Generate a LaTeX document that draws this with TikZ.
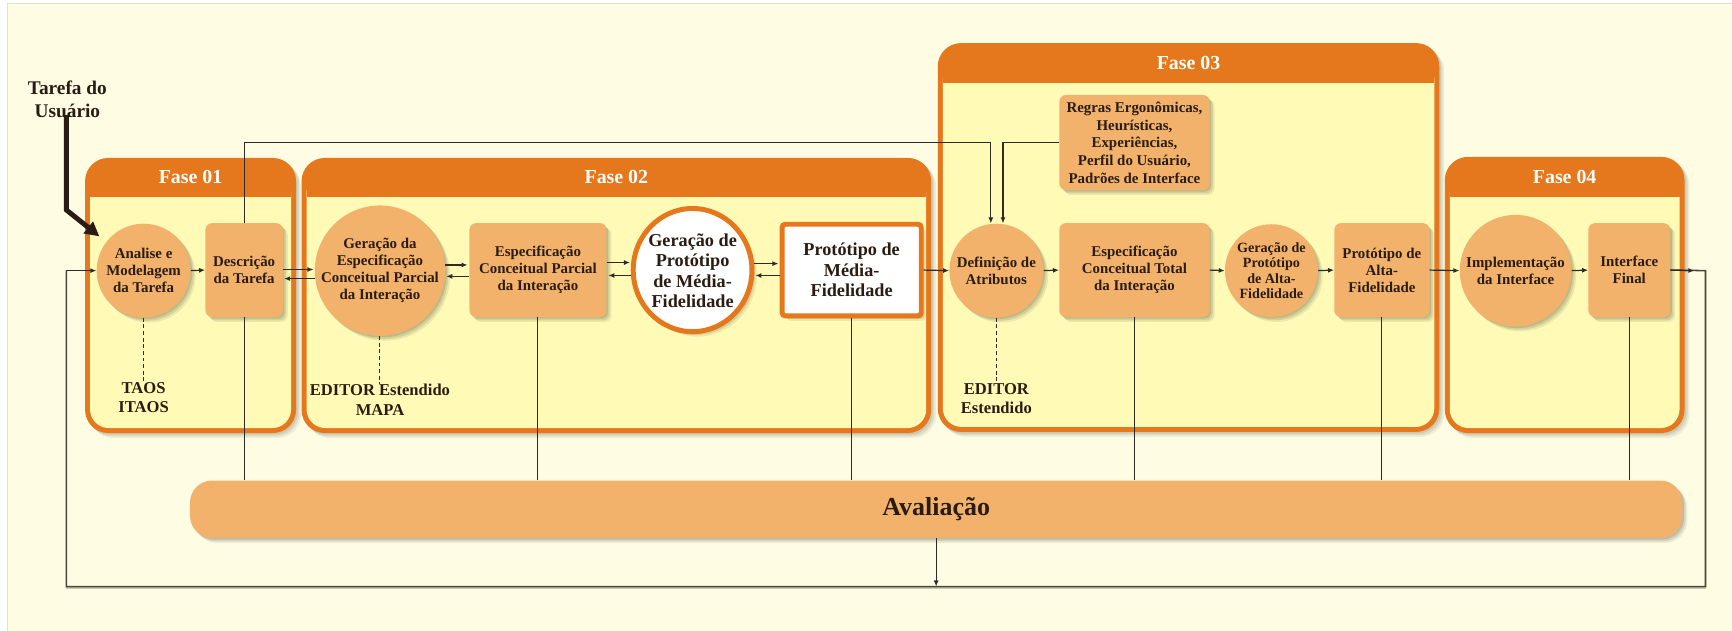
\documentclass[tikz,border=0pt]{standalone}
\usepackage{fontspec}
\setmainfont{Liberation Serif}[BoldFont={Liberation Serif Bold}]
\usetikzlibrary{arrows.meta,shadows,calc,shapes.geometric}

\definecolor{pagebg}{HTML}{FEFDE3}
\definecolor{pageedge}{HTML}{E6E0C6}
\definecolor{phaseorange}{HTML}{E5771D}
\definecolor{phaseyellow}{HTML}{FFFAB6}
\definecolor{nodefill}{HTML}{F2B26C}
\definecolor{inkcol}{HTML}{2A1C12}
\definecolor{linecol}{HTML}{2E2A26}
\definecolor{loopcol}{HTML}{48463A}

\tikzset{
  softshadow/.style={
    drop shadow={shadow xshift=1.5pt,shadow yshift=-1.5pt,opacity=0.10,fill=black},
    drop shadow={shadow xshift=3pt,shadow yshift=-3pt,opacity=0.10,fill=black},
    drop shadow={shadow xshift=4.5pt,shadow yshift=-4.5pt,opacity=0.07,fill=black}},
  txt/.style={font=\bfseries\fontsize{13.5}{15.5}\selectfont,text=inkcol,align=center,inner sep=0pt},
  smalltxt/.style={font=\bfseries\fontsize{12.8}{14}\selectfont,text=inkcol,align=center,inner sep=0pt},
  bigtxt/.style={font=\bfseries\fontsize{16.5}{18.5}\selectfont,text=inkcol,align=center,inner sep=0pt},
  tooltxt/.style={font=\bfseries\fontsize{15}{17.5}\selectfont,text=inkcol,align=center,inner sep=0pt},
  phasetitle/.style={font=\bfseries\fontsize{18}{20}\selectfont,text=white,inner sep=0pt},
  procbox/.style={rectangle,rounded corners=6,fill=nodefill,softshadow,inner sep=0pt},
  proccirc/.style={circle,fill=nodefill,softshadow,inner sep=0pt},
  keybox/.style={rectangle,rounded corners=3,fill=white,draw=phaseorange,line width=4.5,softshadow,inner sep=0pt},
  keycirc/.style={ellipse,fill=white,draw=phaseorange,line width=4.5,softshadow,inner sep=0pt},
  flow/.style={draw=linecol,line width=1.1,-{Latex[length=5.5,width=4.5]}},
  link/.style={draw=linecol,line width=0.9},
  tooltie/.style={draw=linecol,line width=0.9,dash pattern=on 3.5 off 2.5},
}

% phase container: x1 y1 x2 y2 header-bottom title name
\newcommand\phaseframe[7]{%
  \fill[black,opacity=0.08,rounded corners=21] (#1+1.5,#2+1.5) rectangle (#3+1.5,#4+1.5);
  \fill[black,opacity=0.08,rounded corners=21] (#1+3,#2+3) rectangle (#3+3,#4+3);
  \fill[black,opacity=0.06,rounded corners=21] (#1+4.5,#2+4.5) rectangle (#3+4.5,#4+4.5);
  \fill[phaseorange,rounded corners=21] (#1,#2) rectangle (#3,#4);
  \fill[phaseyellow,rounded corners=17] (#1+4.5,#5-20) rectangle (#3-4.5,#4-4.5);
  \fill[phaseorange] (#1+4.5,#5-21) rectangle (#3-4.5,#5);
  \node[phasetitle] (#7) at ({(#1+#3)/2},{(#2+#5)/2}) {#6};
}

\begin{document}
\begin{tikzpicture}[x=1pt,y=-1pt]
\useasboundingbox (0,0) rectangle (1568,571);
\fill[white] (0,0) rectangle (1568,571);
\fill[pagebg] (7,3.5) rectangle (1568,571);
\draw[pageedge,line width=1] (7,571) -- (7,3.5) -- (1568,3.5);

% phases
\phaseframe{77}{143}{268}{392}{178}{Fase 01}{fase1}
\phaseframe{273}{143}{843}{392}{178}{Fase 02}{fase2}
\phaseframe{849}{39}{1303}{391}{75}{Fase 03}{fase3}
\phaseframe{1308}{142}{1525}{392}{178}{Fase 04}{fase4}

% evaluation bar
\node[rectangle,rounded corners=20,fill=nodefill,softshadow,minimum width=1351,minimum height=52,
      font=\bfseries\fontsize{23.5}{26}\selectfont,text=inkcol] (aval) at (847.5,461) {Avaliação};

% phase 01
\node[proccirc,minimum size=85] (analise) at (130,245) {};
\node[txt] (analise-t) at (analise) {Analise e\\Modelagem\\da Tarefa};
\node[procbox,minimum width=70,minimum height=85] (desc) at (221,244.5) {};
\node[txt] (desc-t) at (desc) {Descrição\\da Tarefa};
\node[tooltxt] (taos) at (130,360) {TAOS\\ITAOS};

% phase 02
\node[proccirc,minimum size=118] (geresp) at (344,245) {};
\node[txt] (geresp-t) at (geresp) {Geração da\\Especificação\\Conceitual Parcial\\da Interação};
\node[procbox,minimum width=124,minimum height=85] (espparc) at (487,244.5) {};
\node[txt] (espparc-t) at (espparc) {Especificação\\Conceitual Parcial\\da Interação};
\node[keycirc,minimum width=107.5,minimum height=111.5] (germed) at (627,244.5) {};
\node[bigtxt] (germed-t) at (627,245) {Geração de\\Protótipo\\de Média-\\Fidelidade};
\node[keybox,minimum width=126,minimum height=83] (protmed) at (771,244.5) {};
\node[bigtxt] (protmed-t) at (protmed) {Protótipo de\\Média-\\Fidelidade};
\node[tooltxt] (editor2) at (344,362) {EDITOR Estendido\\MAPA};

% phase 03
\node[procbox,minimum width=136,minimum height=86] (regras) at (1027,129) {};
\node[txt,font=\bfseries\fontsize{13.5}{16}\selectfont] (regras-t) at (regras) {Regras Ergonômicas,\\Heurísticas,\\Experiências,\\Perfil do Usuário,\\Padrões de Interface};
\node[proccirc,minimum size=85] (defatr) at (902,245) {};
\node[txt] (defatr-t) at (defatr) {Definição de\\Atributos};
\node[procbox,minimum width=136,minimum height=85] (esptot) at (1027,244.5) {};
\node[txt] (esptot-t) at (esptot) {Especificação\\Conceitual Total\\da Interação};
\node[proccirc,minimum size=84] (geralta) at (1151,245) {};
\node[smalltxt] (geralta-t) at (geralta) {Geração de\\Protótipo\\de Alta-\\Fidelidade};
\node[procbox,minimum width=86,minimum height=85] (protalta) at (1251,244.5) {};
\node[txt] (protalta-t) at (protalta) {Protótipo de\\Alta-\\Fidelidade};
\node[tooltxt] (editor3) at (902,361) {EDITOR\\Estendido};

% phase 04
\node[proccirc,minimum size=101] (impl) at (1372,245) {};
\node[txt] (impl-t) at (impl) {Implementação\\da Interface};
\node[procbox,minimum width=74,minimum height=85] (final) at (1475,244.5) {};
\node[txt] (final-t) at (final) {Interface\\Final};

% user task input
\node[font=\bfseries\fontsize{17.5}{21.5}\selectfont,text=inkcol,align=center,inner sep=0pt] (tarefa) at (61,90) {Tarefa do\\Usuário};
\coordinate (tarefa-bend) at (60,190);
\coordinate (tarefa-tip) at (90,214);
\draw[line width=4.5,draw=inkcol,-{Triangle[length=13,width=13]}]
  ($(tarefa.south)+(-1,-3)$) -- (tarefa-bend) -- (tarefa-tip);

% tool annotations
\draw[tooltie] (analise.south) -- (taos.north);
\draw[tooltie] (geresp.south) -- (editor2.north);
\draw[tooltie] (defatr.south) -- (editor3.north);

% forward / backward flows
\draw[flow] (analise.east) -- (desc.west);
\draw[flow,shorten >=1] (desc.east |- geresp.179) -- (geresp.179);
\draw[flow,shorten >=1] (geresp.187.8) -- (desc.east |- geresp.187.8);
\draw[flow,shorten >=1.5] (geresp.5.8) -- (geresp.5.8 -| espparc.west);
\draw[flow,shorten >=1] (espparc.west |- geresp.-5.4) -- (geresp.-5.4);
\draw[flow,shorten >=1] (espparc.east |- germed.173.9) -- (germed.173.9);
\draw[flow,shorten >=1.5] (germed.185.6) -- (germed.185.6 -| espparc.east);
\draw[flow,shorten >=1] (germed.6.2) -- (germed.6.2 -| protmed.west);
\draw[flow,shorten >=1] (protmed.west |- germed.-5.6) -- (germed.-5.6);
\draw[flow] (protmed.east) -- (defatr.west);
\draw[flow] (defatr.east) -- (esptot.west);
\draw[flow] (esptot.east) -- (geralta.west);
\draw[flow] (geralta.east) -- (protalta.west);
\draw[flow] (protalta.east) -- (impl.west);
\draw[flow] (impl.east) -- (final.west);

% inputs to attribute definition
\coordinate (d1) at (897,129);
\coordinate (d2) at (908,129);
\draw[flow] (desc.north) |- (d1) -- (d1 |- defatr.north);
\draw[flow] (regras.west) -- (d2) -- (d2 |- defatr.north);

% links to evaluation
\foreach \n in {desc,espparc,protmed,esptot,protalta,final}
  \draw[link] (\n.south) -- (\n.south |- aval.north);

% feedback loop
\coordinate (loopR) at (1544,245);
\coordinate (loopBR) at (1544,531);
\coordinate (loopBL) at (60,531);
\draw[draw=black,opacity=0.2,line width=1.6] ($(loopBL)+(0,1.5)$) -- ($(loopBR)+(0,1.5)$);
\draw[draw=loopcol,line width=1.4] (final.east) -- (loopR) -- (loopBR) -- (loopBL) -- (loopBL |- analise.west);
\draw[flow] (final.east) -- ($(loopR)+(-10,0)$);
\draw[flow] (loopBL |- analise.west) -- (analise.west);
\draw[flow] (aval.south) -- (aval.south |- loopBL);
\end{tikzpicture}
\end{document}
